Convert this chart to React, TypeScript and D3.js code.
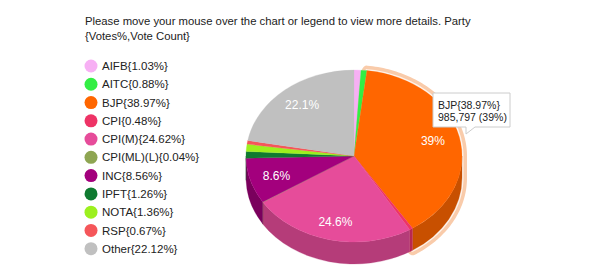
import React, { useEffect, useRef } from 'react';
import * as d3 from 'd3';

// party data
const parties = ['AIFB', 'AITC', 'BJP', 'CPI', 'CPI(M)', 'CPI(ML)(L)', 'INC', 'IPFT', 'NOTA', 'RSP', 'Other'];
const votesPct = [1.03, 0.88, 38.97, 0.48, 24.62, 0.04, 8.56, 1.26, 1.36, 0.67, 22.12];
const topColors = ['#f7b0f4', '#33ee44', '#ff6600', '#ee3366', '#e64c9a', '#8ea552', '#a3007d', '#0f7a30', '#9cf01e', '#f5565a', '#c0c0c0'];
const sideColors = ['#c98cc6', '#28bb36', '#c85000', '#bb2850', '#b53c79', '#6f8240', '#7a005d', '#0a5a23', '#7bbd17', '#c24447', '#999999'];
const titleLines = ['Please move your mouse over the chart or legend to view more details. Party', '{Votes%,Vote Count}'];
const hoverIndex = 2;
const hoverVotes = 985797;

const W = 600;
const H = 270;

// 1 decimal, drop trailing .0
const pctLabel = (v: number) => d3.format('.1f')(v).replace(/\.0$/, '') + '%';

export default function App() {
  const ref = useRef<SVGSVGElement>(null);

  useEffect(() => {
    if (!ref.current) return;
    const svg = d3.select(ref.current);
    svg.selectAll('*').remove();

    const font = 'Arial, "Liberation Sans", sans-serif';
    const cx = 354, cy = 156, rx = 108, ry = 86, depth = 22;
    const k = ry / rx;

    // title
    titleLines.forEach((t, i) => {
      svg.append('text')
        .attr('x', 85).attr('y', 25 + i * 14.5)
        .attr('font-family', font).attr('font-size', 11.3)
        .attr('fill', '#222')
        .text(t);
    });

    // legend
    const legendY = d3.scaleLinear().domain([0, parties.length - 1]).range([66, 248.7]);
    const lg = svg.append('g');
    parties.forEach((p, i) => {
      lg.append('circle')
        .attr('cx', 91).attr('cy', legendY(i)).attr('r', 6.5)
        .attr('fill', topColors[i]);
      lg.append('text')
        .attr('x', 102).attr('y', legendY(i)).attr('dy', '0.36em')
        .attr('font-family', font).attr('font-size', 11.5)
        .attr('fill', '#222')
        .text(`${p}{${votesPct[i].toFixed(2)}%}`);
    });

    const arcs = d3.pie<number>().sort(null).value(d => d)(votesPct);

    const pt = (a: number, dy: number): [number, number] => [cx + rx * Math.sin(a), cy - ry * Math.cos(a) + dy];

    // hover ring around BJP (outer silhouette)
    const h = arcs[hoverIndex];
    const ring: [number, number][] = [];
    const steps = 60;
    const midA = Math.PI / 2;
    for (let s = 0; s <= steps; s++) {
      const a = h.startAngle + (midA - h.startAngle) * s / steps;
      ring.push(pt(a, 0));
    }
    for (let s = 0; s <= steps; s++) {
      const a = midA + (h.endAngle - midA) * s / steps;
      ring.push(pt(a, depth));
    }
    ring.push(pt(h.endAngle, 0));
    ring.push([cx, cy]);
    const line = d3.line().curve(d3.curveLinear);
    svg.append('path')
      .attr('d', line(ring) + 'Z')
      .attr('fill', 'none').attr('stroke', '#f9cbaa')
      .attr('stroke-width', 10).attr('stroke-linejoin', 'round');
    svg.append('path')
      .attr('d', line(ring) + 'Z')
      .attr('fill', 'none').attr('stroke', '#fdf3ec')
      .attr('stroke-width', 3).attr('stroke-linejoin', 'round');

    // sides (scaled circle coordinates)
    const pg = svg.append('g').attr('transform', `translate(${cx},${cy}) scale(1,${k})`);
    const dz = depth / k;
    arcs.forEach((d, i) => {
      const a = Math.max(d.startAngle, Math.PI / 2);
      const b = Math.min(d.endAngle, Math.PI * 1.5);
      if (a >= b) return;
      const p = d3.path();
      p.arc(0, 0, rx, a - Math.PI / 2, b - Math.PI / 2, false);
      p.lineTo(rx * Math.sin(b), -rx * Math.cos(b) + dz);
      p.arc(0, dz, rx, b - Math.PI / 2, a - Math.PI / 2, true);
      p.closePath();
      pg.append('path').attr('d', p.toString())
        .attr('fill', sideColors[i])
        .attr('stroke', sideColors[i]).attr('stroke-width', 0.3);
    });

    // top faces
    const arcGen = d3.arc<d3.PieArcDatum<number>>().innerRadius(0).outerRadius(rx);
    pg.selectAll('path.top')
      .data(arcs)
      .enter()
      .append('path')
      .attr('class', 'top')
      .attr('d', d => arcGen(d) as string)
      .attr('fill', (d, i) => topColors[i])
      .attr('stroke', (d, i) => topColors[i])
      .attr('stroke-width', 0.3);

    // slice labels
    arcs.forEach((d, i) => {
      if (votesPct[i] < 5) return;
      const m = (d.startAngle + d.endAngle) / 2;
      const x = cx + rx * 0.75 * Math.sin(m);
      const y = cy - ry * 0.78 * Math.cos(m);
      svg.append('text')
        .attr('x', x).attr('y', y).attr('dy', '0.36em')
        .attr('text-anchor', 'middle')
        .attr('font-family', font).attr('font-size', 12)
        .attr('fill', '#fff')
        .text(pctLabel(votesPct[i]));
    });

    // tooltip
    const tx = 433, ty = 93, tw = 77, th = 34;
    const tip = svg.append('g');
    tip.append('path')
      .attr('d', `M${tx},${ty} H${tx + tw} V${ty + th} H${tx + 42} L${tx + 33},${ty + th + 7} V${ty + th} H${tx} Z`)
      .attr('fill', '#fff').attr('stroke', '#cccccc').attr('stroke-width', 1);
    tip.append('text')
      .attr('x', tx + 5).attr('y', ty + 16)
      .attr('font-family', font).attr('font-size', 10.5).attr('fill', '#222')
      .text(`${parties[hoverIndex]}{${votesPct[hoverIndex].toFixed(2)}%}`);
    tip.append('text')
      .attr('x', tx + 5).attr('y', ty + 28)
      .attr('font-family', font).attr('font-size', 10.5).attr('fill', '#222')
      .text(`${d3.format(',')(hoverVotes)} (${Math.round(votesPct[hoverIndex])}%)`);
  }, []);

  return (
    <div style={{ position: 'absolute', left: 0, top: 0 }}>
      <svg ref={ref} width={W} height={H} style={{ display: 'block', background: '#fff' }} />
    </div>
  );
}
